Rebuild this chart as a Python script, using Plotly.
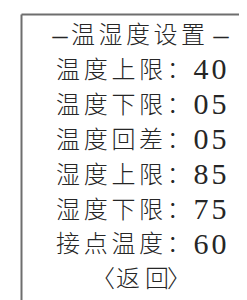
import plotly.graph_objects as go

# ---- data ----
title = "温湿度设置"
labels = ["温度上限", "温度下限", "温度回差", "湿度上限", "湿度下限", "接点温度"]
values = ["40", "05", "05", "85", "75", "60"]
back = "返回"

W, H = 247, 300
CJK_FONT = "Noto Sans CJK SC"
LAT_FONT = "Liberation Serif, DejaVu Serif, serif"
INK = "#262626"

row_y0, row_dy = 29.0, 34.9

cx, cy, ct = [], [], []   # CJK glyphs
lx, ly, lt = [], [], []   # latin glyphs (digits, dashes)

# title row
y = row_y0
lx.append(52); ly.append(y); lt.append("–")
for i, ch in enumerate(title):
    cx.append(75 + i * 27.5); cy.append(y); ct.append(ch)
lx.append(213); ly.append(y); lt.append("–")

# item rows
for r, (lab, val) in enumerate(zip(labels, values), start=1):
    y = row_y0 + r * row_dy
    for i, ch in enumerate(lab + "："):
        cx.append(60 + i * 27.7); cy.append(y); ct.append(ch)
    for j, d in enumerate(val):
        lx.append(193 + j * 18); ly.append(y); lt.append(d)

# back row
y = row_y0 + 7 * row_dy
cx.append(95); cy.append(y); ct.append("〈")
for i, ch in enumerate(back):
    cx.append(120 + i * 29); cy.append(y); ct.append(ch)
cx.append(171); cy.append(y); ct.append("〉")

fig = go.Figure()
fig.add_trace(go.Scatter(x=cx, y=cy, text=ct, mode="text", textposition="middle center",
                         textfont=dict(family=CJK_FONT, size=24, color=INK, weight=300),
                         hoverinfo="skip"))
fig.add_trace(go.Scatter(x=lx, y=ly, text=lt, mode="text", textposition="middle center",
                         textfont=dict(family=LAT_FONT, size=30, color=INK), hoverinfo="skip"))

# frame (top and left edges)
fig.add_shape(type="line", x0=13.5, x1=W, y0=6.5, y1=6.5, line=dict(color="#6e6e6e", width=2))
fig.add_shape(type="line", x0=13.5, x1=13.5, y0=6.5, y1=H, line=dict(color="#6e6e6e", width=2))

fig.update_layout(width=W, height=H, margin=dict(l=0, r=0, t=0, b=0),
                  paper_bgcolor="white", plot_bgcolor="white", showlegend=False,
                  xaxis=dict(range=[0, W], visible=False, fixedrange=True),
                  yaxis=dict(range=[H, 0], visible=False, fixedrange=True))
fig.write_html("out.html", config={"displayModeBar": False})
